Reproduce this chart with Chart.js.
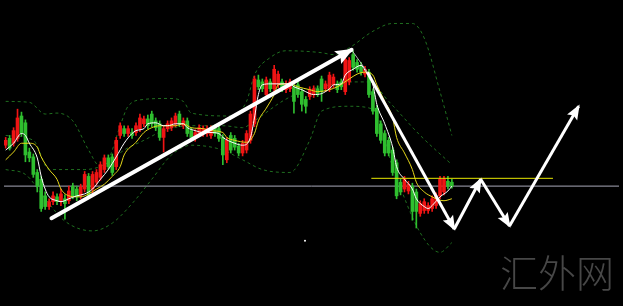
<!DOCTYPE html>
<html>
<head>
<meta charset="utf-8">
<script src="https://cdn.jsdelivr.net/npm/chart.js@4.4.1/dist/chart.umd.min.js"></script>
<style>
html, body { margin: 0; padding: 0; background: #000; overflow: hidden; }
</style>
</head>
<body>
<canvas id="grafica" width="623" height="306"></canvas>
<script>
// velas: apertura, maximo, minimo, cierre
var aperturas = [161,168,163,168,191,184,154,149,133,126,109,98,103,108,103,106,104,119,116,109,
  116,129,116,123,128,136,148,149,139,171,178,173,174,174,178,183,188,193,186,183,
  169,178,179,183,193,181,186,176,168,173,173,173,171,179,178,169,146,171,168,160,
  153,156,166,183,228,226,213,226,219,223,226,218,219,221,223,216,208,211,213,219,
  229,219,219,223,224,226,216,226,254,246,243,234,236,216,199,183,173,166,156,143,
  123,116,114,119,113,91,94,94,96,99,109,113,124,123];
var maximos = [169,171,179,198,195,187,158,152,136,129,113,106,113,111,116,110,119,122,119,121,
  134,132,134,136,144,151,151,152,169,184,181,181,178,184,193,191,192,196,189,186,
  181,186,189,194,196,189,189,179,177,182,181,181,181,182,181,172,169,174,171,163,
  166,176,196,232,233,229,231,229,243,237,229,227,229,224,226,219,211,221,222,222,
  232,227,236,234,227,229,252,251,258,249,246,242,239,219,202,186,176,169,159,146,
  126,129,124,122,116,104,106,102,109,112,129,129,129,126];
var minimos = [158,156,160,165,170,144,144,128,113,93,95,95,100,100,99,85,101,106,104,106,
  113,106,112,120,125,133,136,130,136,168,170,170,168,171,175,180,178,180,176,166,
  154,175,176,180,180,178,170,166,165,170,170,170,168,170,165,141,143,153,156,150,
  150,153,163,180,218,216,210,216,216,220,216,215,216,194,210,196,194,208,210,211,
  206,216,216,220,215,218,213,223,238,236,233,231,210,193,170,163,150,150,130,106,
  110,113,111,84,76,88,91,91,93,96,106,110,116,117];
var cierres = [166,158,176,189,173,151,148,131,119,96,98,103,109,103,111,101,114,109,108,118,
  131,109,131,133,141,148,139,133,166,181,173,178,171,181,189,188,181,183,179,169,
  178,183,186,191,183,186,173,169,174,179,178,178,178,173,168,151,166,156,159,153,
  163,173,193,229,221,219,228,219,239,234,219,224,226,206,213,203,201,218,219,214,
  216,224,233,231,218,221,249,248,241,239,236,239,213,196,173,166,153,153,133,109,
  113,126,121,93,93,101,103,99,106,109,126,126,119,119];

// medias moviles: [vela, nivel]
var media5 = [[0,156],[2,163],[4,173],[5,171],[6,163],[8,148],[9,129],[10,116],[11,108],[13,104],
  [14,103],[16,106],[18,109],[20,111],[22,116],[24,126],[26,136],[28,149],[30,163],[32,173],
  [33,176],[35,178],[36,183],[38,184],[40,181],[41,181],[43,183],[45,183],[46,179],[48,176],
  [50,174],[52,174],[54,173],[55,169],[58,163],[60,161],[62,169],[63,189],[64,213],[65,223],
  [67,224],[69,224],[72,224],[73,221],[75,218],[77,214],[78,213],[80,214],[82,219],[83,223],
  [85,224],[86,233],[88,239],[90,243],[91,238],[93,223],[94,203],[96,183],[98,159],[99,139],
  [101,126],[103,116],[104,106],[106,98],[107,96],[108,99],[110,108],[112,114],[113,119]];
var media10 = [[0,146],[2,154],[4,163],[6,163],[8,159],[9,149],[11,136],[13,126],[14,116],[16,109],
  [18,108],[19,108],[21,111],[23,116],[25,121],[27,129],[29,139],[30,151],[33,164],[35,174],
  [37,179],[39,181],[41,181],[43,181],[45,183],[47,179],[50,178],[52,176],[55,174],[56,169],
  [58,166],[61,164],[63,173],[64,186],[66,199],[68,213],[69,223],[72,224],[74,221],[77,218],
  [79,216],[82,218],[84,221],[87,229],[89,234],[91,236],[93,233],[94,223],[96,206],[98,189],
  [99,169],[101,153],[103,136],[104,123],[106,113],[108,108],[109,106],[111,104],[113,106]];

// bandas de bollinger
var bandaSup = [[0,206],[6,205],[10,193],[13,194],[17,186],[21,156],[24,139],[26,146],[29,181],[31,201],
  [35,208],[41,209],[45,206],[47,194],[57,191],[61,206],[63,233],[67,251],[71,258],[80,256],
  [83,254],[87,261],[93,278],[98,286],[103,286],[106,271],[110,216],[113,171]];
var bandaMed = [[0,171],[7,166],[11,136],[20,136],[25,141],[30,156],[35,166],[40,176],[47,181],[55,181],
  [60,179],[63,186],[70,206],[75,216],[80,221],[87,226],[92,226],[97,206],[105,171],[113,141]];
var bandaInf = [[0,136],[5,131],[10,106],[15,83],[22,73],[27,81],[32,101],[37,126],[42,151],[47,161],
  [55,156],[60,146],[65,136],[72,133],[77,166],[80,196],[87,201],[93,198],[98,139],[105,71],
  [110,51],[113,61]];

// lineas horizontales y flechas dibujadas sobre el grafico
var nivelGris = 119;
var nivelAmarillo = [[92.6,127],[138.6,127]];
var flechaSubida = [[11.6,86],[87.6,259]];
var trazoFino = [[87.6,259],[91.6,236]];
var flechaBajada = [[91.6,236],[113.6,75]];
var zigzag1 = [[113.6,75],[120.3,126]];
var zigzag2 = [[120.3,126],[127.6,78]];
var zigzag3 = [[127.6,78],[145.1,201]];
var punto = [[75.8,63]];

var rojo = '#f01414';
var verde = '#2fbf2f';

var colores = cierres.map(function (c, i) { return c >= aperturas[i] ? rojo : verde; });

function pares(lista) {
    return lista.map(function (p) { return { x: p[0], y: p[1] }; });
}

var cuerpos = aperturas.map(function (a, i) { return { x: i, y: [a, cierres[i]] }; });
var mechas = maximos.map(function (h, i) { return { x: i, y: [minimos[i], h] }; });

var xMin = -0.425;
var xMax = xMin + 623 / 4;

function linea(datos, color, ancho, orden, extra) {
    var ds = {
        type: 'line',
        data: pares(datos),
        borderColor: color,
        borderWidth: ancho,
        pointRadius: 0,
        fill: false,
        order: orden,
        tension: 0
    };
    for (var k in extra) ds[k] = extra[k];
    return ds;
}

var suave = { cubicInterpolationMode: 'monotone' };
var punteada = { cubicInterpolationMode: 'monotone', borderDash: [3, 3] };

var flechas = [
    linea(flechaSubida, '#ffffff', 4, 1, { flecha: 16, borderCapStyle: 'round' }),
    linea(trazoFino, '#b8b8b8', 1, 1, {}),
    linea(flechaBajada, '#ffffff', 3, 1, { flecha: 13 }),
    linea(zigzag1, '#ffffff', 3, 1, { flecha: 13 }),
    linea(zigzag2, '#ffffff', 3, 1, { flecha: 13 }),
    linea(zigzag3, '#ffffff', 3, 1, { flecha: 13 })
];

const puntasFlecha = {
    id: 'puntasFlecha',
    afterDatasetsDraw(chart) {
        const ctx = chart.ctx;
        chart.data.datasets.forEach(function (ds, i) {
            if (!ds.flecha) return;
            const pts = chart.getDatasetMeta(i).data;
            const a = pts[pts.length - 2], b = pts[pts.length - 1];
            const ang = Math.atan2(b.y - a.y, b.x - a.x);
            const L = ds.flecha, W = ds.flecha * 0.45;
            ctx.save();
            ctx.translate(b.x, b.y);
            ctx.rotate(ang);
            ctx.fillStyle = '#ffffff';
            ctx.beginPath();
            ctx.moveTo(2, 0);
            ctx.lineTo(-L, -W);
            ctx.lineTo(-L * 0.8, 0);
            ctx.lineTo(-L, W);
            ctx.closePath();
            ctx.fill();
            ctx.restore();
        });
    }
};

const marcaAgua = {
    id: 'marcaAgua',
    beforeDatasetsDraw(chart) {
        const ctx = chart.ctx, area = chart.chartArea;
        ctx.save();
        ctx.font = '300 38px "Noto Sans CJK SC"';
        ctx.fillStyle = '#474747';
        ctx.textAlign = 'right';
        ctx.textBaseline = 'bottom';
        ctx.fillText('汇外网', area.right - 5, area.bottom - 10);
        ctx.restore();
    }
};

const fondo = {
    id: 'fondo',
    beforeDraw(chart) {
        const ctx = chart.ctx;
        ctx.save();
        ctx.fillStyle = '#000';
        ctx.fillRect(0, 0, chart.width, chart.height);
        ctx.restore();
    }
};

new Chart('grafica', {
    type: 'bar',
    data: {
        datasets: [
            linea(bandaSup, '#1f6e1f', 1, 20, punteada),
            linea(bandaMed, '#1f6e1f', 1, 20, punteada),
            linea(bandaInf, '#1f6e1f', 1, 20, punteada),
            linea([[xMin, nivelGris], [xMax, nivelGris]], '#a9a9b9', 1, 15, {}),
            { type: 'bar', data: mechas, backgroundColor: colores, barThickness: 1, grouped: false, order: 12 },
            { type: 'bar', data: cuerpos, backgroundColor: colores, barThickness: 3, grouped: false, minBarLength: 1, order: 11 },
            linea(media10, '#e6d81a', 1, 9, suave),
            linea(media5, '#ffffff', 1, 8, suave),
            linea(nivelAmarillo, '#e8e800', 1, 5, {}),
            {
                type: 'scatter', data: pares(punto), pointRadius: 1, pointBackgroundColor: '#ffffff',
                pointBorderWidth: 0, order: 5
            }
        ].concat(flechas)
    },
    options: {
        responsive: false,
        animation: false,
        events: [],
        layout: { padding: 0 },
        plugins: { legend: { display: false }, tooltip: { enabled: false } },
        scales: {
            x: { type: 'linear', min: xMin, max: xMax, offset: false, display: false, grid: { offset: false } },
            y: { min: 0, max: 306, display: false }
        }
    },
    plugins: [fondo, marcaAgua, puntasFlecha]
});
</script>
</body>
</html>
